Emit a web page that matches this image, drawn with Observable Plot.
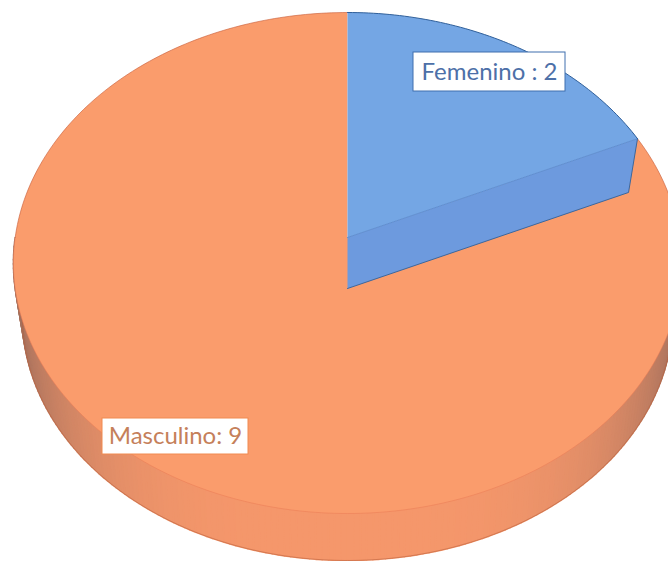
<!DOCTYPE html>
<html>
<head>
<meta charset="utf-8">
<script src="https://cdn.jsdelivr.net/npm/d3@7"></script>
<script src="https://cdn.jsdelivr.net/npm/@observablehq/plot@0.6"></script>
<style>
html,body{margin:0;padding:0;background:#fff;overflow:hidden}
svg{display:block}
</style>
</head>
<body>
<div id="chart"></div>
<script>
const categories = ["Femenino", "Masculino"];
const values = [2, 9];
const labels = ["Femenino : 2", "Masculino: 9"];
const topColors = ["#74a6e4", "#fa9c6c"];
const sideColors = ["#6d9ade", "#f5976b"];
const rimColors = ["#2f5f9a", "#b9603c"];
const textColors = ["#4d70a8", "#c5805a"];

const W = 668, H = 561;
// Perspective view of the two faces of the disc
const planes = {
  top:    {cx: 347, y0: 237, a: 332.3, b: 247.9, k: 0.1018},
  bottom: {cx: 347, y0: 288, a: 323.2, b: 241.8, k: 0.111}
};
function project(theta, r, plane) {
  const p = planes[plane];
  const u = r * Math.sin(theta), v = r * Math.cos(theta), d = 1 + p.k * v;
  return {x: p.cx + p.a * u / d, y: p.y0 - p.b * v / d, u, v};
}
const arcs = d3.pie().sort(null).startAngle(0).endAngle(2 * Math.PI)(values);
const step = Math.PI / 180;
function rim(a0, a1, plane) {
  const n = Math.ceil((a1 - a0) / step), out = [];
  for (let i = 0; i <= n; i++) out.push(project(a0 + (a1 - a0) * i / n, 1, plane));
  return out;
}
const [fem, mas] = arcs;
const frontStart = Math.PI * 0.5, frontEnd = Math.PI * 1.5;

// front wall of the disc, as narrow facets coloured by how far they turn away
const wallShade = d3.interpolateRgb(sideColors[1], "#a06e5c");
const facets = [];
const frontA = rim(frontStart, frontEnd, "top");
const frontB = rim(frontStart, frontEnd, "bottom");
for (let i = 0; i < frontA.length - 1; i++) {
  const c = wallShade(Math.pow(Math.abs(frontA[i].u), 3.6));
  [frontA[i], frontA[i + 1], frontB[i + 1], frontB[i]].forEach(p =>
    facets.push({x: p.x, y: p.y, id: i, c}));
}
const masTop = [...rim(mas.startAngle, mas.endAngle, "top"), project(0, 0, "top")];
const femTop = [project(0, 0, "top"), ...rim(fem.startAngle, fem.endAngle, "top")];
const femSide = [project(0, 0, "top"), project(fem.endAngle, 1, "top"),
                 project(fem.endAngle, 1, "bottom"), project(0, 0, "bottom")];
const femEdge = [project(fem.endAngle, 1, "top"), project(fem.endAngle, 1, "bottom"), project(0, 0, "bottom")];
const femInner = [project(0, 0, "top"), project(fem.endAngle, 1, "top")];
const outline = rim(frontStart, frontEnd, "bottom");

const boxes = [
  {cx: 489, cy: 71.5, w: 152, h: 39, i: 0},
  {cx: 175, cy: 436, w: 146, h: 36, i: 1}
].map(b => ({...b, label: labels[b.i], text: textColors[b.i], edge: b.i ? "#f08a50" : "#3f6fae"}));

const xy = {x: "x", y: "y"};
const chart = Plot.plot({
  width: W, height: H, margin: 0,
  x: {domain: [0, W], range: [0, W], axis: null},
  y: {domain: [0, H], range: [0, H], axis: null},
  color: {type: "identity"},
  marks: [
    Plot.line(facets, {...xy, z: "id", fill: "c", stroke: "c", strokeWidth: 1.6, curve: "linear-closed"}),
    Plot.line(outline, {...xy, stroke: rimColors[1], strokeWidth: 0.8, strokeOpacity: 0.7}),
    Plot.line(masTop, {...xy, fill: topColors[1], stroke: "none", curve: "linear-closed"}),
    Plot.line(rim(frontStart, frontEnd, "top"), {...xy, stroke: "#ea7d55", strokeWidth: 0.9, strokeOpacity: 0.6}),
    Plot.line(rim(frontEnd, 2 * Math.PI, "top"), {...xy, stroke: "#c9603c", strokeWidth: 0.8, strokeOpacity: 0.8}),
    Plot.line(rim(fem.endAngle, frontStart, "top"), {...xy, stroke: "#c9603c", strokeWidth: 0.8, strokeOpacity: 0.8}),
    Plot.line(femSide, {...xy, fill: sideColors[0], stroke: "none", curve: "linear-closed"}),
    Plot.line(femTop, {...xy, fill: topColors[0], stroke: "none", curve: "linear-closed"}),
    Plot.line(femInner, {...xy, stroke: "#5f8fd2", strokeWidth: 1}),
    Plot.line(rim(fem.startAngle, fem.endAngle, "top"), {...xy, stroke: rimColors[0], strokeWidth: 1}),
    Plot.line(femEdge, {...xy, stroke: "#3d679c", strokeWidth: 1}),
    Plot.rect(boxes, {x1: d => d.cx - d.w / 2, x2: d => d.cx + d.w / 2,
      y1: d => d.cy - d.h / 2, y2: d => d.cy + d.h / 2, fill: "white", stroke: "edge", strokeWidth: 1}),
    Plot.text(boxes, {x: "cx", y: "cy", text: "label", fill: "text",
      fontFamily: "Lato, 'Open Sans', sans-serif", fontSize: 24, textAnchor: "middle", lineAnchor: "middle"})
  ]
});
document.getElementById("chart").append(chart);
</script>
</body>
</html>
